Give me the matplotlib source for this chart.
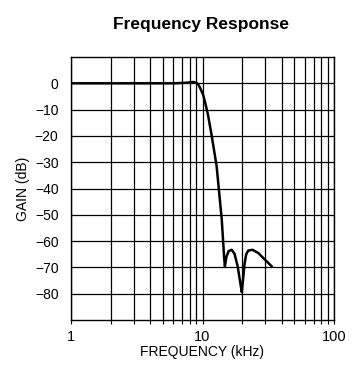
import matplotlib
matplotlib.use("Agg")
import matplotlib.pyplot as plt
from matplotlib.ticker import FixedLocator, NullFormatter, FixedFormatter

# values
freq_khz = [1.0, 3.0, 6.0, 7.5, 8.5, 9.0, 9.3, 9.6, 10.1, 10.5, 11.0, 11.7, 12.8,
            14.0, 14.6, 14.8, 15.2, 15.8, 16.7, 17.5, 18.5, 19.4, 19.9,
            20.3, 20.9, 21.5, 22.3, 24.0, 26.5, 29.5, 33.6]
gain_db = [0.0, 0.0, 0.0, 0.2, 0.5, 0.2, -0.5, -1.8, -4.3, -7.5, -11.9, -19.4, -31.4,
           -51.6, -66.0, -69.6, -66.0, -63.8, -63.3, -64.8, -69.5, -76.0, -79.4,
           -75.0, -68.5, -65.0, -63.6, -63.3, -64.5, -66.8, -69.6]

y_ticks = [0, -10, -20, -30, -40, -50, -60, -70, -80]
x_labels = ["1", "10", "100"]

plt.rcParams['font.family'] = ['Liberation Sans', 'DejaVu Sans']

fig = plt.figure(figsize=(3.52, 3.65), dpi=100)
ax = fig.add_axes([71/352, 45/365, 263/352, 263/365])

ax.plot(freq_khz, gain_db, color='black', lw=1.8, zorder=3)

ax.set_xscale('log')
ax.set_xlim(1, 100)
ax.set_ylim(-90, 10)

ax.xaxis.set_major_locator(FixedLocator([1, 10, 100]))
ax.xaxis.set_major_formatter(FixedFormatter(x_labels))
minor = [m * d for d in (1, 10) for m in range(2, 10)]
ax.xaxis.set_minor_locator(FixedLocator(minor))
ax.xaxis.set_minor_formatter(NullFormatter())
ax.set_yticks(y_ticks)
ax.set_yticklabels([str(v).replace('-', '\u2212') for v in y_ticks])

ax.grid(True, which='both', color='black', lw=0.9)
ax.tick_params(axis='x', which='both', length=3, width=0.8, labelsize=10.5, pad=4)
ax.tick_params(axis='y', length=0, labelsize=10, pad=9)
for s in ax.spines.values():
    s.set_linewidth(1.0)

ax.set_xlabel('FREQUENCY (kHz)', fontsize=10, labelpad=1)
ax.set_ylabel('GAIN (dB)', fontsize=10)
ax.yaxis.set_label_coords(-0.155, 0.5)
fig.text(201/352, 1 - 25/365, 'Frequency Response', ha='center', va='center',
         fontsize=12.5, fontweight='bold')

fig.savefig('out.png', dpi=100)
